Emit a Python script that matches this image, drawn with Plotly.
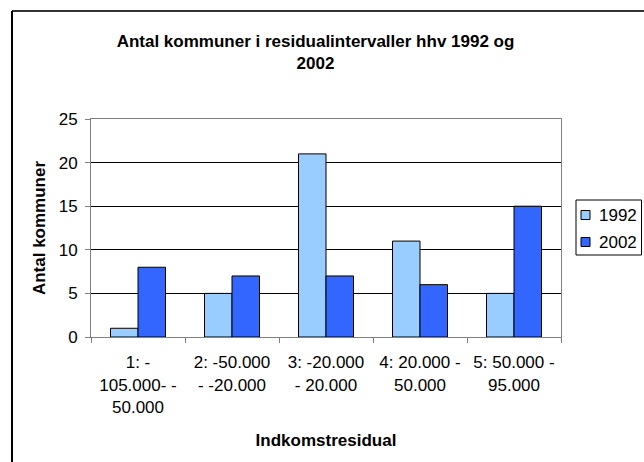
import plotly.graph_objects as go

categories = ["1: -<br>105.000- -<br>50.000", "2: -50.000<br>- -20.000", "3: -20.000<br>- 20.000",
              "4: 20.000 -<br>50.000", "5: 50.000 -<br>95.000"]
values_1992 = [1, 5, 21, 11, 5]
values_2002 = [8, 7, 7, 6, 15]
series_names = ["1992", "2002"]
series_colors = ["#99CCFF", "#3366FF"]
y_ticks = [0, 5, 10, 15, 20, 25]

W, H = 644, 462
L, R, T, B = 91, 83, 119, 125
pw, ph = W - L - R, H - T - B

def px(x):
    return (x - L) / pw

def py(y):
    return (H - B - y) / ph

font = "Liberation Sans, Arial, sans-serif"

fig = go.Figure()
for name, vals, col in zip(series_names, [values_1992, values_2002], series_colors):
    fig.add_trace(go.Bar(x=categories, y=vals, name=name, showlegend=False,
                         marker=dict(color=col, line=dict(color="#000000", width=1))))

fig.update_layout(
    width=W, height=H,
    margin=dict(l=L, r=R, t=T, b=B, autoexpand=False),
    paper_bgcolor="white", plot_bgcolor="white",
    font=dict(family=font, size=17, color="black"),
    bargap=0.415, bargroupgap=0,
    title=dict(text="<b>Antal kommuner i residualintervaller hhv 1992 og<br>2002</b>",
               x=315.5 / W, xanchor="center", y=1 - 47 / H, yanchor="top",
               font=dict(family=font, size=17, color="black")),
    showlegend=False,
)
fig.update_xaxes(
    type="category", showline=True, linecolor="#808080", linewidth=1, mirror=True,
    ticks="outside", tickson="boundaries", ticklen=5, tickcolor="#808080",
    tickfont=dict(size=17), showgrid=False, ticklabelstandoff=10,
    title=dict(text="<b>Indkomstresidual</b>", font=dict(size=17), standoff=18),
    automargin=False,
)
fig.update_yaxes(
    range=[0, 25], tickvals=y_ticks, showline=True, linecolor="#808080", linewidth=1, mirror=True,
    ticks="outside", ticklen=5, tickcolor="#808080", ticklabelstandoff=4,
    showgrid=True, gridcolor="#000000", gridwidth=1, zeroline=False,
    tickfont=dict(size=17),
    title=dict(text="<b>Antal kommuner</b>", font=dict(size=17), standoff=8),
    automargin=False,
)

# outer chart-area frame (top and left edges visible)
fig.add_shape(type="line", xref="paper", yref="paper", x0=px(12), x1=px(660), y0=py(11), y1=py(11),
              line=dict(color="#333333", width=2))
fig.add_shape(type="line", xref="paper", yref="paper", x0=px(12), x1=px(12), y0=py(11), y1=py(480),
              line=dict(color="#000000", width=2))

# legend drawn manually (box, swatches, labels)
fig.add_shape(type="rect", xref="paper", yref="paper", x0=px(576), x1=px(641.5), y0=py(255), y1=py(200),
              line=dict(color="#000000", width=1), fillcolor="white")
for i, (name, col) in enumerate(zip(series_names, series_colors)):
    cy = 215 + 27 * i
    fig.add_shape(type="rect", xref="paper", yref="paper", x0=px(581), x1=px(590),
                  y0=py(cy + 4.5), y1=py(cy - 4.5),
                  line=dict(color="#000000", width=1), fillcolor=col)
    fig.add_annotation(text=name, xref="paper", yref="paper", x=px(597), y=py(cy),
                       xanchor="left", yanchor="middle", showarrow=False,
                       font=dict(family=font, size=17, color="black"))

fig.write_html("out.html", config={"displayModeBar": False},
               post_script="document.body.style.margin='0';document.body.style.overflow='hidden';")
